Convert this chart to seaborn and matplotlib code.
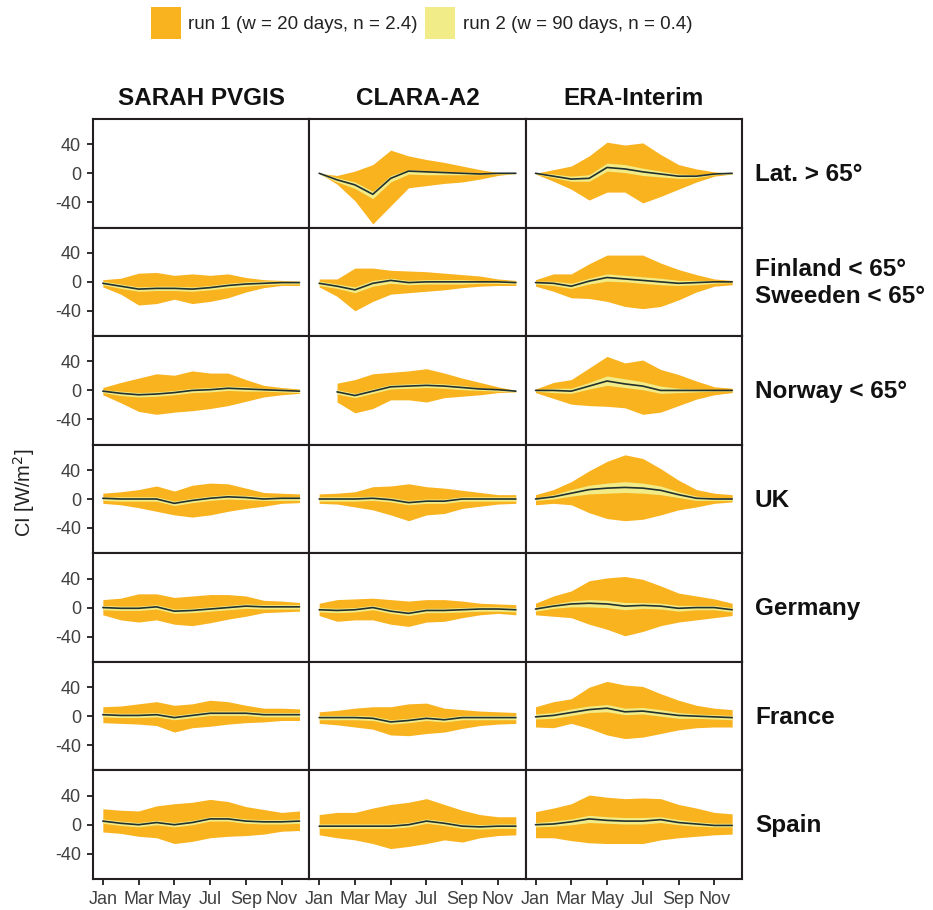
import numpy as np
import matplotlib
matplotlib.use("Agg")
import matplotlib.pyplot as plt
from matplotlib.patches import Patch
import seaborn as sns

nan = np.nan

# ---------------------------------------------------------------------------
# Data: monthly clear-sky index anomalies (W/m^2)
#   mid   : central estimate
#   r1_lo / r1_hi : envelope of run 1
#   r2_lo / r2_hi : envelope of run 2
# ---------------------------------------------------------------------------
MONTHS = list(range(1, 13))
MONTH_TICKS = [1, 3, 5, 7, 9, 11]
MONTH_LABELS = ["Jan", "Mar", "May", "Jul", "Sep", "Nov"]
Y_TICKS = [-40, 0, 40]

DATASETS = ["SARAH PVGIS", "CLARA-A2", "ERA-Interim"]
REGIONS = ["Lat. > 65°", "Finland < 65°\nSweeden < 65°", "Norway < 65°",
           "UK", "Germany", "France", "Spain"]

RUN1_LABEL = "run 1 (w = 20 days, n = 2.4)"
RUN2_LABEL = "run 2 (w = 90 days, n = 0.4)"

# --- Lat. > 65 ---
CLARA_LAT65 = dict(
    mid=[0, -9, -16, -29, -7, 3, 2, 1, 0, -1, 0, 0],
    r1_hi=[0, -3, 3, 12, 32, 24, 19, 15, 10, 5, 1, 0],
    r1_lo=[0, -15, -38, -70, -45, -20, -17, -14, -12, -8, -3, 0],
    r2_hi=[1, -6, -12, -25, -3, 5, 4, 3, 2, 1, 1, 1],
    r2_lo=[-1, -12, -21, -35, -12, -1, -2, -2, -2, -2, -1, -1],
)
ERA_LAT65 = dict(
    mid=[0, -4, -8, -7, 8, 6, 2, -1, -4, -4, -1, 0],
    r1_hi=[0, 5, 10, 24, 43, 39, 42, 26, 12, 6, 2, 0],
    r1_lo=[-1, -11, -22, -37, -26, -26, -41, -32, -22, -12, -4, -1],
    r2_hi=[1, -1, -4, -2, 14, 12, 7, 3, -1, -2, 0, 1],
    r2_lo=[-1, -6, -11, -11, 3, 1, -3, -5, -7, -6, -2, -1],
)

# --- Finland / Sweden < 65 ---
SARAH_FIN = dict(
    mid=[-2, -6, -10, -9, -9, -10, -8, -5, -3, -2, -1, -1],
    r1_hi=[3, 5, 12, 13, 9, 11, 9, 11, 6, 3, 2, 1],
    r1_lo=[-7, -17, -32, -30, -24, -30, -27, -22, -14, -8, -5, -5],
    r2_hi=[1, -3, -7, -6, -6, -7, -5, -2, 0, 1, 1, 1],
    r2_lo=[-4, -9, -13, -12, -12, -13, -11, -8, -6, -4, -3, -3],
)
CLARA_FIN = dict(
    mid=[-2, -6, -11, -2, 2, -1, 0, 0, 0, 0, 0, -1],
    r1_hi=[4, 4, 19, 19, 16, 15, 14, 12, 10, 8, 4, 2],
    r1_lo=[-7, -20, -40, -27, -17, -15, -13, -11, -8, -6, -5, -5],
    r2_hi=[1, -3, -7, 2, 5, 2, 3, 3, 3, 2, 2, 1],
    r2_lo=[-5, -9, -15, -6, -2, -4, -3, -3, -3, -2, -2, -3],
)
ERA_FIN = dict(
    mid=[-1, -2, -6, 1, 6, 4, 2, 0, -2, -1, 0, 0],
    r1_hi=[3, 11, 11, 25, 37, 37, 37, 26, 17, 10, 4, 2],
    r1_lo=[-6, -13, -22, -23, -27, -34, -37, -34, -25, -14, -6, -4],
    r2_hi=[1, 1, -2, 5, 11, 9, 7, 5, 2, 2, 2, 1],
    r2_lo=[-3, -5, -9, -3, 1, 0, -2, -4, -5, -4, -2, -1],
)

# --- Norway < 65 ---
SARAH_NOR = dict(
    mid=[-1, -4, -6, -5, -3, 0, 1, 3, 2, 1, 0, -1],
    r1_hi=[4, 11, 17, 23, 21, 27, 24, 24, 15, 7, 4, 2],
    r1_lo=[-6, -17, -29, -33, -30, -28, -25, -21, -15, -9, -6, -4],
    r2_hi=[1, -1, -3, -2, 0, 3, 4, 6, 5, 3, 2, 1],
    r2_lo=[-3, -7, -9, -8, -6, -3, -2, 0, -1, -1, -2, -3],
)
CLARA_NOR = dict(
    mid=[nan, -2, -7, -1, 5, 6, 7, 6, 4, 2, 1, -1],
    r1_hi=[nan, 10, 15, 23, 25, 27, 30, 24, 17, 11, 5, 0],
    r1_lo=[nan, -16, -31, -25, -13, -13, -16, -10, -8, -6, -3, -2],
    r2_hi=[nan, 1, -4, 2, 8, 9, 10, 9, 7, 4, 2, 0],
    r2_lo=[nan, -5, -10, -4, 2, 3, 4, 3, 1, 0, -1, -2],
)
ERA_NOR = dict(
    mid=[0, 0, -1, 6, 13, 9, 6, 0, 0, 0, 0, 0],
    r1_hi=[2, 11, 15, 31, 47, 38, 42, 29, 22, 13, 5, 3],
    r1_lo=[-3, -11, -19, -21, -22, -24, -33, -30, -21, -12, -6, -3],
    r2_hi=[1, 3, 3, 11, 20, 16, 12, 6, 3, 2, 1, 1],
    r2_lo=[-1, -3, -4, 2, 7, 4, 1, -4, -3, -2, -1, -1],
)

# --- UK ---
SARAH_UK = dict(
    mid=[1, 0, 0, 0, -6, -2, 1, 3, 2, 0, 1, 1],
    r1_hi=[8, 10, 13, 18, 11, 19, 22, 21, 15, 9, 8, 7],
    r1_lo=[-6, -8, -12, -17, -22, -25, -22, -17, -13, -10, -6, -5],
    r2_hi=[3, 3, 3, 3, -3, 1, 4, 6, 5, 3, 3, 3],
    r2_lo=[-2, -3, -3, -3, -9, -5, -2, 0, -1, -2, -2, -2],
)
CLARA_UK = dict(
    mid=[0, 0, 0, 1, -1, -5, -3, -3, 0, 0, 0, 0],
    r1_hi=[7, 8, 10, 17, 18, 21, 17, 15, 12, 9, 6, 6],
    r1_lo=[-6, -7, -11, -15, -22, -30, -22, -20, -13, -10, -7, -6],
    r2_hi=[3, 3, 3, 4, 2, -2, 0, 0, 3, 3, 3, 3],
    r2_lo=[-3, -3, -3, -2, -4, -8, -6, -6, -3, -3, -3, -3],
)
ERA_UK = dict(
    mid=[0, 3, 8, 13, 15, 16, 15, 12, 6, 1, 0, 0],
    r1_hi=[6, 13, 24, 39, 52, 61, 56, 42, 26, 13, 8, 6],
    r1_lo=[-8, -6, -8, -19, -27, -30, -28, -22, -15, -11, -6, -4],
    r2_hi=[2, 6, 13, 19, 22, 24, 22, 18, 10, 4, 2, 2],
    r2_lo=[-2, 0, 4, 7, 8, 9, 8, 6, 2, -2, -2, -2],
)

# --- Germany ---
SARAH_GER = dict(
    mid=[0, -1, -1, 1, -5, -4, -2, 0, 2, 1, 1, 1],
    r1_hi=[11, 13, 19, 19, 14, 16, 18, 18, 16, 10, 9, 7],
    r1_lo=[-10, -17, -20, -17, -23, -25, -21, -16, -12, -7, -6, -5],
    r2_hi=[3, 2, 2, 4, -2, -1, 1, 3, 5, 4, 4, 4],
    r2_lo=[-3, -4, -4, -2, -8, -7, -5, -3, -1, -2, -2, -2],
)
CLARA_GER = dict(
    mid=[-3, -4, -3, 0, -5, -8, -4, -4, -3, -2, -2, -3],
    r1_hi=[6, 11, 12, 13, 11, 9, 11, 11, 9, 6, 5, 4],
    r1_lo=[-11, -19, -17, -17, -23, -26, -20, -19, -14, -10, -8, -10],
    r2_hi=[0, -1, 0, 3, -2, -5, -1, -1, 0, 1, 1, 0],
    r2_lo=[-6, -7, -6, -3, -8, -11, -7, -7, -6, -5, -5, -6],
)
ERA_GER = dict(
    mid=[-2, 2, 5, 6, 5, 2, 3, 2, -1, 0, 0, -3],
    r1_hi=[6, 16, 23, 37, 41, 43, 39, 30, 20, 16, 12, 6],
    r1_lo=[-10, -12, -14, -23, -30, -39, -33, -25, -20, -17, -14, -11],
    r2_hi=[1, 5, 9, 11, 10, 7, 7, 6, 3, 3, 3, 0],
    r2_lo=[-5, -1, 1, 1, 0, -3, -1, -2, -5, -3, -3, -6],
)

# --- France ---
SARAH_FRA = dict(
    mid=[2, 1, 1, 2, -2, 1, 4, 4, 4, 2, 2, 2],
    r1_hi=[13, 14, 17, 20, 15, 17, 22, 20, 15, 11, 11, 10],
    r1_lo=[-9, -10, -11, -13, -22, -16, -14, -11, -9, -8, -6, -6],
    r2_hi=[5, 4, 4, 5, 1, 4, 7, 7, 7, 5, 5, 5],
    r2_lo=[-1, -2, -2, -1, -5, -2, 1, 1, 1, -1, -1, -1],
)
CLARA_FRA = dict(
    mid=[-2, -2, -2, -3, -8, -6, -3, -5, -2, -2, -2, -2],
    r1_hi=[6, 8, 11, 13, 13, 17, 18, 11, 9, 7, 6, 5],
    r1_lo=[-10, -12, -15, -18, -26, -27, -24, -22, -17, -13, -11, -10],
    r2_hi=[1, 1, 1, 0, -5, -3, 0, -2, 1, 1, 1, 1],
    r2_lo=[-5, -5, -5, -6, -11, -9, -6, -8, -5, -5, -5, -5],
)
ERA_FRA = dict(
    mid=[-1, 1, 5, 9, 11, 6, 7, 4, 1, 0, -1, -2],
    r1_hi=[13, 20, 24, 40, 48, 43, 41, 31, 22, 15, 11, 9],
    r1_lo=[-15, -16, -10, -17, -26, -31, -29, -24, -19, -16, -15, -15],
    r2_hi=[3, 5, 10, 14, 16, 11, 12, 9, 5, 3, 2, 1],
    r2_lo=[-4, -3, 1, 5, 6, 2, 3, 0, -3, -3, -4, -5],
)

# --- Spain ---
SARAH_ESP = dict(
    mid=[5, 2, 0, 3, 0, 3, 8, 8, 5, 4, 4, 5],
    r1_hi=[22, 20, 19, 26, 29, 31, 35, 32, 25, 21, 17, 19],
    r1_lo=[-10, -12, -16, -18, -26, -23, -18, -16, -15, -13, -9, -8],
    r2_hi=[8, 5, 3, 6, 3, 6, 11, 11, 8, 7, 7, 8],
    r2_lo=[2, -1, -3, 0, -3, 0, 5, 5, 2, 1, 1, 2],
)
CLARA_ESP = dict(
    mid=[-2, -2, -2, -2, -2, 0, 5, 2, -2, -3, -2, -2],
    r1_hi=[14, 17, 17, 23, 28, 31, 36, 28, 20, 14, 11, 11],
    r1_lo=[-14, -18, -21, -26, -33, -30, -26, -21, -24, -18, -15, -14],
    r2_hi=[1, 1, 1, 1, 1, 3, 8, 5, 1, 0, 1, 1],
    r2_lo=[-5, -5, -5, -5, -5, -3, 2, -1, -5, -6, -5, -5],
)
ERA_ESP = dict(
    mid=[0, 1, 4, 8, 6, 5, 5, 7, 3, 1, -1, -1],
    r1_hi=[18, 23, 29, 41, 38, 36, 37, 36, 28, 23, 17, 15],
    r1_lo=[-18, -18, -22, -25, -26, -26, -26, -21, -18, -16, -14, -13],
    r2_hi=[3, 5, 8, 13, 11, 10, 10, 11, 7, 4, 2, 2],
    r2_lo=[-3, -2, 0, 3, 2, 1, 1, 3, 0, -2, -3, -3],
)

# Grid of panels: rows = regions, columns = datasets (None = no data)
PANELS = [
    [None, CLARA_LAT65, ERA_LAT65],
    [SARAH_FIN, CLARA_FIN, ERA_FIN],
    [SARAH_NOR, CLARA_NOR, ERA_NOR],
    [SARAH_UK, CLARA_UK, ERA_UK],
    [SARAH_GER, CLARA_GER, ERA_GER],
    [SARAH_FRA, CLARA_FRA, ERA_FRA],
    [SARAH_ESP, CLARA_ESP, ERA_ESP],
]

# ---------------------------------------------------------------------------
# Styling
# ---------------------------------------------------------------------------
ORANGE = "#F9B31F"
YELLOW = "#F1EC88"
LINE = "#22302F"
FRAME = "#231F20"
TICK_TXT = "#404040"

sns.set_theme(style="ticks")
plt.rcParams["font.family"] = ["Liberation Sans", "DejaVu Sans"]

W, H = 933, 910
fig, axes = plt.subplots(len(REGIONS), len(DATASETS), figsize=(W / 100, H / 100),
                         dpi=100, sharex=True, sharey=True)
fig.subplots_adjust(left=93 / W, right=742 / W, top=1 - 119 / H,
                    bottom=1 - 879 / H, wspace=0, hspace=0)

n_rows = len(REGIONS)
for i, region in enumerate(REGIONS):
    for j, dataset in enumerate(DATASETS):
        ax = axes[i, j]
        panel = PANELS[i][j]
        if panel is not None:
            ax.fill_between(MONTHS, panel["r1_lo"], panel["r1_hi"],
                            color=ORANGE, lw=0, zorder=1)
            ax.fill_between(MONTHS, panel["r2_lo"], panel["r2_hi"],
                            color=YELLOW, lw=0, zorder=2)
            sns.lineplot(x=MONTHS, y=panel["mid"], ax=ax, color=LINE,
                         lw=1.2, zorder=3)
        ax.set_xlabel("")
        ax.set_ylabel("")
        ax.set_xlim(0.45, 12.55)
        ax.set_ylim(-75, 75)
        ax.set_yticks(Y_TICKS)
        ax.set_yticklabels([str(v) for v in Y_TICKS])
        ax.set_xticks(MONTH_TICKS)
        ax.set_xticklabels(MONTH_LABELS)
        for sp in ax.spines.values():
            sp.set_visible(True)
            sp.set_color(FRAME)
            sp.set_linewidth(1.5)
        ax.tick_params(axis="both", length=4.5, width=1.3, color=FRAME,
                       labelsize=13, labelcolor=TICK_TXT, pad=4,
                       left=(j == 0), labelleft=(j == 0),
                       bottom=(i == n_rows - 1), labelbottom=(i == n_rows - 1))
        if i == 0:
            ax.text(0.5, 1.19, dataset, transform=ax.transAxes, ha="center",
                    va="center", fontsize=17.5, fontweight="bold", color="#111111")
        if j == len(DATASETS) - 1:
            ax.text(1.06, 0.49, region, transform=ax.transAxes, ha="left",
                    va="center", fontsize=17.5, fontweight="bold", color="#111111",
                    linespacing=1.25)

fig.text(24 / W, 1 - 493 / H, "CI [W/m$^2$]", rotation=90, ha="center",
         va="center", fontsize=14.5, color="#222222")

handles = [Patch(facecolor=ORANGE, edgecolor="none", label=RUN1_LABEL),
           Patch(facecolor=YELLOW, edgecolor="none", label=RUN2_LABEL)]
fig.legend(handles=handles, loc="center", bbox_to_anchor=(0.452, 1 - 23 / H),
           ncol=2, frameon=False, fontsize=13.5, handlelength=1.6,
           handleheight=2.3, handletextpad=0.4, columnspacing=0.4,
           labelcolor="#222222")

fig.savefig("out.png", dpi=100)
